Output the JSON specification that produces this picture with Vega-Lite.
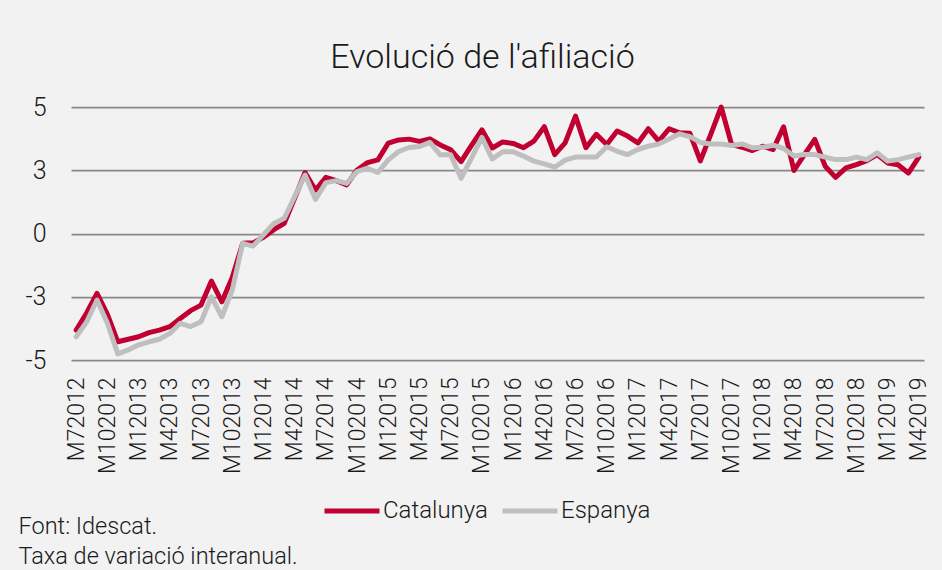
{
  "$schema": "https://vega.github.io/schema/vega-lite/v6.json",
  "width": 853,
  "height": 253,
  "autosize": {"type": "none"},
  "padding": {"left": 71, "top": 107, "right": 18, "bottom": 210},
  "background": "#F2F2F2",
  "config": {
    "view": {"stroke": null},
    "font": "Roboto",
    "axis": {"labelColor": "#1a1a1a", "titleColor": "#1a1a1a", "labelFont": "Roboto", "titleFont": "Roboto", "labelFontWeight": 300, "titleFontWeight": 300},
    "legend": {"labelColor": "#1a1a1a", "labelFont": "Roboto", "labelFontWeight": 300}
  },
  "title": {
    "text": "Evolució de l'afiliació",
    "font": "Roboto",
    "fontSize": 34,
    "fontWeight": 300,
    "color": "#1a1a1a",
    "anchor": "middle",
    "offset": 20,
    "dx": -15
  },
  "data": {
    "values": [
      {"mes": "M72012", "Catalunya": -3.82, "Espanya": -4.08},
      {"mes": "M82012", "Catalunya": -3.14, "Espanya": -3.5},
      {"mes": "M92012", "Catalunya": -2.37, "Espanya": -2.63},
      {"mes": "M102012", "Catalunya": -3.2, "Espanya": -3.55},
      {"mes": "M112012", "Catalunya": -4.28, "Espanya": -4.76},
      {"mes": "M122012", "Catalunya": -4.18, "Espanya": -4.6},
      {"mes": "M12013", "Catalunya": -4.08, "Espanya": -4.4},
      {"mes": "M22013", "Catalunya": -3.92, "Espanya": -4.28},
      {"mes": "M32013", "Catalunya": -3.82, "Espanya": -4.18},
      {"mes": "M42013", "Catalunya": -3.68, "Espanya": -3.95},
      {"mes": "M52013", "Catalunya": -3.36, "Espanya": -3.55},
      {"mes": "M62013", "Catalunya": -3.05, "Espanya": -3.68},
      {"mes": "M72013", "Catalunya": -2.83, "Espanya": -3.49},
      {"mes": "M82013", "Catalunya": -1.88, "Espanya": -2.5},
      {"mes": "M92013", "Catalunya": -2.7, "Espanya": -3.29},
      {"mes": "M102013", "Catalunya": -1.74, "Espanya": -2.24},
      {"mes": "M112013", "Catalunya": -0.39, "Espanya": -0.39},
      {"mes": "M122013", "Catalunya": -0.37, "Espanya": -0.5},
      {"mes": "M12014", "Catalunya": -0.15, "Espanya": -0.05},
      {"mes": "M22014", "Catalunya": 0.15, "Espanya": 0.4},
      {"mes": "M32014", "Catalunya": 0.4, "Espanya": 0.6},
      {"mes": "M42014", "Catalunya": 1.39, "Espanya": 1.46},
      {"mes": "M52014", "Catalunya": 2.41, "Espanya": 2.31},
      {"mes": "M62014", "Catalunya": 1.72, "Espanya": 1.35},
      {"mes": "M72014", "Catalunya": 2.22, "Espanya": 2.01},
      {"mes": "M82014", "Catalunya": 2.09, "Espanya": 2.09},
      {"mes": "M92014", "Catalunya": 1.92, "Espanya": 1.98},
      {"mes": "M102014", "Catalunya": 2.51, "Espanya": 2.45},
      {"mes": "M112014", "Catalunya": 2.8, "Espanya": 2.58},
      {"mes": "M122014", "Catalunya": 2.91, "Espanya": 2.41},
      {"mes": "M12015", "Catalunya": 3.57, "Espanya": 2.91},
      {"mes": "M22015", "Catalunya": 3.7, "Espanya": 3.24},
      {"mes": "M32015", "Catalunya": 3.73, "Espanya": 3.4},
      {"mes": "M42015", "Catalunya": 3.64, "Espanya": 3.44},
      {"mes": "M52015", "Catalunya": 3.74, "Espanya": 3.6},
      {"mes": "M62015", "Catalunya": 3.5, "Espanya": 3.11},
      {"mes": "M72015", "Catalunya": 3.31, "Espanya": 3.11},
      {"mes": "M82015", "Catalunya": 2.84, "Espanya": 2.18},
      {"mes": "M92015", "Catalunya": 3.48, "Espanya": 2.98},
      {"mes": "M102015", "Catalunya": 4.1, "Espanya": 3.8},
      {"mes": "M112015", "Catalunya": 3.38, "Espanya": 2.95},
      {"mes": "M122015", "Catalunya": 3.62, "Espanya": 3.23},
      {"mes": "M12016", "Catalunya": 3.56, "Espanya": 3.23},
      {"mes": "M22016", "Catalunya": 3.39, "Espanya": 3.06},
      {"mes": "M32016", "Catalunya": 3.65, "Espanya": 2.86},
      {"mes": "M42016", "Catalunya": 4.22, "Espanya": 2.75},
      {"mes": "M52016", "Catalunya": 3.12, "Espanya": 2.62},
      {"mes": "M62016", "Catalunya": 3.58, "Espanya": 2.9},
      {"mes": "M72016", "Catalunya": 4.64, "Espanya": 3.02},
      {"mes": "M82016", "Catalunya": 3.39, "Espanya": 3.02},
      {"mes": "M92016", "Catalunya": 3.92, "Espanya": 3.02},
      {"mes": "M102016", "Catalunya": 3.52, "Espanya": 3.43},
      {"mes": "M112016", "Catalunya": 4.05, "Espanya": 3.25},
      {"mes": "M122016", "Catalunya": 3.85, "Espanya": 3.12},
      {"mes": "M12017", "Catalunya": 3.58, "Espanya": 3.32},
      {"mes": "M22017", "Catalunya": 4.14, "Espanya": 3.45},
      {"mes": "M32017", "Catalunya": 3.65, "Espanya": 3.54},
      {"mes": "M42017", "Catalunya": 4.14, "Espanya": 3.74},
      {"mes": "M52017", "Catalunya": 3.98, "Espanya": 3.94},
      {"mes": "M62017", "Catalunya": 3.96, "Espanya": 3.83},
      {"mes": "M72017", "Catalunya": 2.87, "Espanya": 3.6},
      {"mes": "M82017", "Catalunya": 3.92, "Espanya": 3.54},
      {"mes": "M92017", "Catalunya": 5.0, "Espanya": 3.54},
      {"mes": "M102017", "Catalunya": 3.52, "Espanya": 3.48},
      {"mes": "M112017", "Catalunya": 3.41, "Espanya": 3.54},
      {"mes": "M122017", "Catalunya": 3.28, "Espanya": 3.39},
      {"mes": "M12018", "Catalunya": 3.45, "Espanya": 3.41},
      {"mes": "M22018", "Catalunya": 3.32, "Espanya": 3.49},
      {"mes": "M32018", "Catalunya": 4.22, "Espanya": 3.36},
      {"mes": "M42018", "Catalunya": 2.49, "Espanya": 3.06},
      {"mes": "M52018", "Catalunya": 3.12, "Espanya": 3.12},
      {"mes": "M62018", "Catalunya": 3.72, "Espanya": 3.12},
      {"mes": "M72018", "Catalunya": 2.66, "Espanya": 3.02},
      {"mes": "M82018", "Catalunya": 2.22, "Espanya": 2.92},
      {"mes": "M92018", "Catalunya": 2.59, "Espanya": 2.92},
      {"mes": "M102018", "Catalunya": 2.72, "Espanya": 3.02},
      {"mes": "M112018", "Catalunya": 2.88, "Espanya": 2.92},
      {"mes": "M122018", "Catalunya": 3.12, "Espanya": 3.19},
      {"mes": "M12019", "Catalunya": 2.79, "Espanya": 2.86},
      {"mes": "M22019", "Catalunya": 2.72, "Espanya": 2.92},
      {"mes": "M32019", "Catalunya": 2.39, "Espanya": 3.02},
      {"mes": "M42019", "Catalunya": 3.02, "Espanya": 3.12}
    ]
  },
  "transform": [{"fold": ["Catalunya", "Espanya"], "as": ["serie", "valor"]}],
  "mark": {"type": "line", "strokeWidth": 5, "strokeJoin": "round", "strokeCap": "round"},
  "encoding": {
    "x": {
      "field": "mes",
      "type": "ordinal",
      "sort": null,
      "scale": {"type": "point", "padding": 0.5},
      "axis": {
        "values": ["M72012", "M102012", "M12013", "M42013", "M72013", "M102013", "M12014", "M42014", "M72014", "M102014", "M12015", "M42015", "M72015", "M102015", "M12016", "M42016", "M72016", "M102016", "M12017", "M42017", "M72017", "M102017", "M12018", "M42018", "M72018", "M102018", "M12019", "M42019"],
        "labelAngle": -90,
        "labelAlign": "right",
        "labelBaseline": "middle",
        "labelPadding": 17,
        "labelFontSize": 23,
        "labelOverlap": false,
        "ticks": false,
        "domain": false,
        "grid": false,
        "title": ["Font: Idescat.", "Taxa de variació interanual."],
        "titleX": -53,
        "titleY": 173,
        "titleAlign": "left",
        "titleAnchor": "start",
        "titleBaseline": "alphabetic",
        "titleFontSize": 23.5,
        "titleLineHeight": 30
      }
    },
    "y": {
      "field": "valor",
      "type": "quantitative",
      "scale": {"domain": [-5, 5], "nice": false, "zero": false},
      "axis": {
        "values": [-5, -2.5, 0, 2.5, 5],
        "labelExpr": "datum.value == 2.5 ? '3' : datum.value == -2.5 ? '-3' : datum.value == -5 ? '-5' : datum.value == 5 ? '5' : '0'",
        "title": null,
        "ticks": false,
        "domain": false,
        "grid": true,
        "gridColor": "#888888",
        "gridWidth": 1.75,
        "labelPadding": 25,
        "labelFontSize": 25
      }
    },
    "color": {
      "field": "serie",
      "type": "nominal",
      "scale": {"domain": ["Catalunya", "Espanya"], "range": ["#C00030", "#BFBFBF"]},
      "legend": {
        "title": null,
        "orient": "none",
        "legendX": 251,
        "legendY": 374,
        "direction": "horizontal",
        "symbolType": "stroke",
        "symbolSize": 3025,
        "symbolStrokeWidth": 5,
        "labelFontSize": 24,
        "labelOffset": 1,
        "columnPadding": 4,
        "padding": 0
      }
    }
  }
}
